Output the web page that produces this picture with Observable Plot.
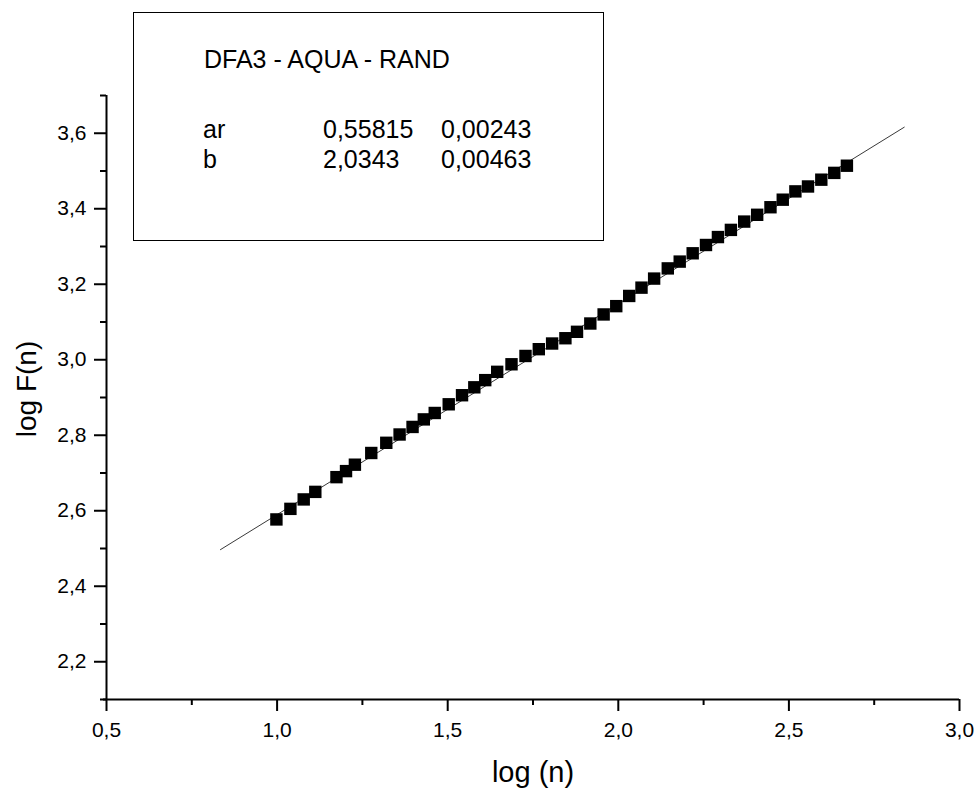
<!DOCTYPE html>
<html>
<head>
<meta charset="utf-8">
<script src="https://cdn.jsdelivr.net/npm/d3@7"></script>
<script src="https://cdn.jsdelivr.net/npm/@observablehq/plot@0.6"></script>
<style>
  html, body { margin: 0; padding: 0; background: white; }
  #wrap { position: relative; width: 980px; height: 795px; font-family: "Liberation Sans", Arial, sans-serif; color: black; }
  #wrap svg { display: block; }
  .box { position: absolute; left: 133px; top: 12px; width: 471px; height: 229px; border: 1.5px solid black; box-sizing: border-box; background: white; }
  .lt { position: absolute; font-size: 25px; line-height: 25px; white-space: nowrap; }
</style>
</head>
<body>
<div id="wrap"></div>
<script>
// Data
const logN = [0.998, 1.039, 1.078, 1.112, 1.174, 1.202, 1.228, 1.276, 1.320, 1.359,
              1.397, 1.430, 1.462, 1.503, 1.542, 1.578, 1.610, 1.645, 1.687, 1.728,
              1.767, 1.806, 1.845, 1.879, 1.918, 1.957, 1.994, 2.032, 2.068, 2.105,
              2.145, 2.180, 2.218, 2.257, 2.292, 2.330, 2.369, 2.407, 2.446, 2.482,
              2.519, 2.556, 2.595, 2.633, 2.670];
const logF = [2.577, 2.605, 2.630, 2.650, 2.689, 2.705, 2.722, 2.753, 2.780, 2.802,
              2.822, 2.842, 2.859, 2.882, 2.906, 2.927, 2.946, 2.968, 2.988, 3.010,
              3.028, 3.043, 3.057, 3.074, 3.096, 3.120, 3.142, 3.169, 3.191, 3.215,
              3.242, 3.260, 3.282, 3.304, 3.325, 3.344, 3.366, 3.384, 3.404, 3.424,
              3.446, 3.459, 3.477, 3.495, 3.514];
// Fitted line end points (as drawn)
const fitX = [0.834, 2.838];
const fitY = [2.497, 3.616];
// Tick values
const xMajor = [0.5, 1.0, 1.5, 2.0, 2.5, 3.0];
const xMinor = [0.75, 1.25, 1.75, 2.25, 2.75];
const yMajor = [2.2, 2.4, 2.6, 2.8, 3.0, 3.2, 3.4, 3.6];
const yMinor = [2.1, 2.3, 2.5, 2.7, 2.9, 3.1, 3.3, 3.5, 3.7];
// Legend texts
const legendTitle = "DFA3 - AQUA - RAND";
const paramNames = ["ar", "b"];
const paramValues = ["0,55815", "2,0343"];
const paramErrors = ["0,00243", "0,00463"];
const xLabel = "log (n)";
const yLabel = "log F(n)";

const points = logN.map((x, i) => ({x, y: logF[i]}));
const fit = fitX.map((x, i) => ({x, y: fitY[i]}));
const fmt = d => d.toFixed(1).replace(".", ",");

const W = 980, H = 795, mL = 106, mR = 21, mT = 95, mB = 96;
const fw = W - mL - mR, fh = H - mT - mB;

const chart = Plot.plot({
  width: W,
  height: H,
  marginLeft: mL,
  marginRight: mR,
  marginTop: mT,
  marginBottom: mB,
  style: {fontFamily: "'Liberation Sans', Arial, sans-serif", background: "white", color: "black"},
  x: {domain: [0.5, 3.0], axis: null, label: null},
  y: {domain: [2.1, 3.7], axis: null, label: null},
  marks: [
    // x ticks (outward, below the frame)
    Plot.tickX(xMajor, {x: d => d, insetTop: fh, insetBottom: -12, stroke: "black", strokeWidth: 2}),
    Plot.tickX(xMinor, {x: d => d, insetTop: fh, insetBottom: -6, stroke: "black", strokeWidth: 2}),
    Plot.text(xMajor, {x: d => d, text: fmt, frameAnchor: "bottom", dy: 23, lineAnchor: "top", textAnchor: "middle", fontSize: 21, fill: "black"}),
    // y ticks (outward, left of the frame)
    Plot.tickY(yMajor, {y: d => d, insetLeft: -12, insetRight: fw, stroke: "black", strokeWidth: 2}),
    Plot.tickY(yMinor, {y: d => d, insetLeft: -6, insetRight: fw, stroke: "black", strokeWidth: 2}),
    Plot.text(yMajor, {y: d => d, text: fmt, frameAnchor: "left", dx: -20, textAnchor: "end", lineAnchor: "middle", fontSize: 21, fill: "black"}),
    // axis lines
    Plot.ruleY([2.1], {stroke: "black", strokeWidth: 2, insetLeft: -3}),
    Plot.ruleX([0.5], {stroke: "black", strokeWidth: 2}),
    // fit line and data
    Plot.line(fit, {x: "x", y: "y", stroke: "#222", strokeWidth: 0.9}),
    Plot.dot(points, {x: "x", y: "y", symbol: "square", r: 7, fill: "black", stroke: "none"}),
    // axis titles
    Plot.text([xLabel], {text: d => d, frameAnchor: "bottom", dy: 82, lineAnchor: "bottom", textAnchor: "middle", fontSize: 29, fill: "black"}),
    Plot.text([yLabel], {text: d => d, frameAnchor: "left", rotate: -90, dx: -71, dy: -8.5, lineAnchor: "bottom", textAnchor: "middle", fontSize: 28, fill: "black"})
  ]
});

const wrap = document.getElementById("wrap");
wrap.appendChild(chart);

// Legend box overlay
const box = document.createElement("div");
box.className = "box";
wrap.appendChild(box);
function addText(str, left, top) {
  const d = document.createElement("div");
  d.className = "lt";
  d.textContent = str;
  d.style.left = left + "px";
  d.style.top = top + "px";
  wrap.appendChild(d);
}
addText(legendTitle, 204, 47);
const rowTops = [117, 147];
paramNames.forEach((n, i) => {
  addText(n, 203, rowTops[i]);
  addText(paramValues[i], 323, rowTops[i]);
  addText(paramErrors[i], 441, rowTops[i]);
});
</script>
</body>
</html>
